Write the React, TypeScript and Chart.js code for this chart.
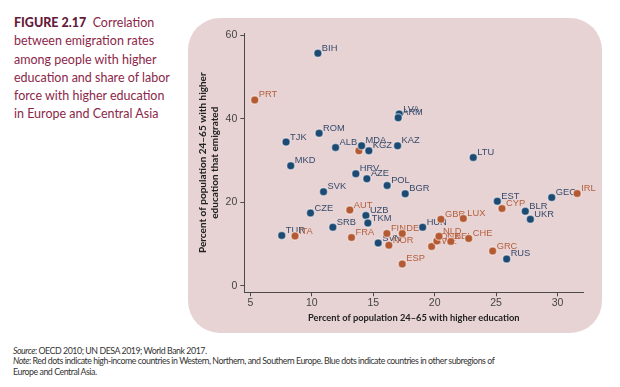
import React, { useEffect, useRef } from "react";
import { Chart, registerables } from "chart.js";
Chart.register(...registerables);

const blueLabels = ["BIH", "LVA", "ARM", "ROM", "TJK", "ALB", "MDA", "KGZ", "KAZ", "LTU", "MKD", "HRV", "AZE", "POL", "BGR", "SVK", "CZE", "UZB", "TKM", "SRB", "TUR", "SVN", "HUN", "EST", "BLR", "UKR", "GEO", "RUS"];
const blueX = [10.49, 17.11, 17.03, 10.59, 7.9, 11.93, 14.05, 14.64, 16.98, 23.14, 8.28, 13.58, 14.48, 16.13, 17.6, 10.95, 9.89, 14.4, 14.56, 11.71, 7.55, 15.4, 19.02, 25.1, 27.38, 27.79, 29.53, 25.86];
const blueY = [55.7, 41.1, 40.2, 36.5, 34.4, 33.1, 33.5, 32.3, 33.5, 30.7, 28.7, 26.8, 25.6, 24.0, 22.0, 22.5, 17.4, 16.8, 15.0, 14.0, 12.0, 10.2, 14.0, 20.2, 17.8, 15.9, 21.1, 6.4];

const redLabels = ["PRT", "", "AUT", "FRA", "ITA", "FIN", "NOR", "DEU", "ESP", "GBR", "LUX", "SWE", "DNK", "NLD", "BEL", "CHE", "GRC", "CYP", "IRL"];
const redX = [5.35, 13.83, 13.09, 13.23, 8.63, 16.11, 16.27, 17.36, 17.36, 20.51, 22.33, 19.75, 20.18, 20.35, 21.32, 22.77, 24.72, 25.48, 31.6];
const redY = [44.5, 32.3, 18.1, 11.5, 11.9, 12.5, 9.7, 12.5, 5.2, 15.9, 16.1, 9.4, 10.7, 11.8, 10.6, 11.3, 8.3, 18.5, 22.1];

const xTicks = [5, 10, 15, 20, 25, 30];
const yTicks = [0, 20, 40, 60];

const xTitle = "Percent of population 24–65 with higher education";
const yTitle = ["Percent of population 24–65 with higher", "education that emigrated"];

const BLUE = "#1c4a73";
const RED = "#b45a33";
const BLUE_TXT = "#34496a";
const RED_TXT = "#b35e3c";
const AXIS = "#4a4a4a";
const NARROW = '"Liberation Sans Narrow", "Liberation Sans", Arial, sans-serif';

const labelPlugin = {
  id: "pointLabels",
  beforeDatasetsDraw(chart: any) {
    const ctx = chart.ctx;
    chart.data.datasets.forEach((ds: any, i: number) => {
      const meta = chart.getDatasetMeta(i);
      ctx.save();
      ctx.font = `9.3px ${NARROW}`;
      ctx.fillStyle = ds.labelColor;
      ctx.textBaseline = "middle";
      ctx.textAlign = "left";
      meta.data.forEach((el: any, j: number) => {
        const lbl = ds.pointLabels[j];
        if (!lbl) return;
        ctx.fillText(lbl, el.x + 4, el.y - 5);
      });
      ctx.restore();
    });
  },
};

export default function App() {
  const ref = useRef<HTMLCanvasElement>(null);
  useEffect(() => {
    if (!ref.current) return;
    const toPts = (xs: number[], ys: number[]) => xs.map((x, i) => ({ x, y: ys[i] }));
    const chart = new Chart(ref.current, {
      type: "scatter",
      data: {
        datasets: [
          {
            label: "Other",
            data: toPts(blueX, blueY),
            backgroundColor: BLUE,
            borderColor: "rgba(255,255,255,0.45)",
            borderWidth: 1.5,
            pointRadius: 4,
            pointLabels: blueLabels,
            labelColor: BLUE_TXT,
          } as any,
          {
            label: "High-income",
            data: toPts(redX, redY),
            backgroundColor: RED,
            borderColor: "rgba(255,255,255,0.45)",
            borderWidth: 1.5,
            pointRadius: 4,
            pointLabels: redLabels,
            labelColor: RED_TXT,
          } as any,
        ],
      },
      options: {
        responsive: false,
        animation: false,
        events: [],
        layout: { padding: { left: 0, right: 18.7, top: 15.1, bottom: 0 } },
        plugins: { legend: { display: false }, tooltip: { enabled: false } },
        scales: {
          x: {
            type: "linear",
            min: 4.5,
            max: 32.1,
            afterBuildTicks: (s: any) => {
              s.ticks = xTicks.map((v) => ({ value: v }));
            },
            afterFit: (s: any) => {
              s.height = 40.7;
            },
            grid: { display: true, drawOnChartArea: false, drawTicks: true, tickLength: 4, color: AXIS },
            border: { display: true, color: AXIS, width: 1 },
            ticks: { color: "#444", font: { size: 10.5, family: NARROW }, padding: 1 },
            title: {
              display: true,
              text: xTitle,
              color: "#222",
              font: { size: 9.3, weight: "bold", family: "Lato, sans-serif" },
              padding: { top: 0, bottom: 9.3 },
            },
          },
          y: {
            type: "linear",
            min: -1.6,
            max: 60.5,
            afterBuildTicks: (s: any) => {
              s.ticks = yTicks.map((v) => ({ value: v }));
            },
            afterFit: (s: any) => {
              s.width = 56.3;
            },
            grid: { display: true, drawOnChartArea: false, drawTicks: true, tickLength: 4, color: AXIS },
            border: { display: true, color: AXIS, width: 1 },
            ticks: { color: "#444", font: { size: 10.5, family: NARROW }, padding: 3 },
            title: {
              display: true,
              text: yTitle,
              color: "#222",
              font: { size: 10, weight: "bold", family: "Lato, sans-serif", lineHeight: 1.2 },
              padding: { top: 9, bottom: 0 },
            },
          },
        },
      } as any,
      plugins: [labelPlugin],
    });
    return () => chart.destroy();
  }, []);

  return (
    <div style={{ position: "absolute", left: 0, top: 0, width: 620, height: 387, background: "#fff", overflow: "hidden" }}>
      <div
        style={{
          position: "absolute",
          left: 14,
          top: 14,
          width: 175,
          fontFamily: "Lato, sans-serif",
          fontSize: 12.5,
          lineHeight: "18.3px",
          color: "#8c2749",
          whiteSpace: "nowrap",
        }}
      >
        <span style={{ fontWeight: 900, color: "#641a39" }}>FIGURE 2.17</span>
        <span>&nbsp; Correlation</span>
        <br />
        between emigration rates
        <br />
        among people with higher
        <br />
        education and share of labor
        <br />
        force with higher education
        <br />
        in Europe and Central Asia
      </div>
      <div
        style={{
          position: "absolute",
          left: 188,
          top: 18,
          width: 414,
          height: 315,
          borderRadius: 32,
          background: "#e8d3d4",
        }}
      />
      <canvas ref={ref} width={414} height={315} style={{ position: "absolute", left: 188, top: 18, width: 414, height: 315 }} />
      <div
        style={{
          position: "absolute",
          left: 13,
          top: 346,
          fontFamily: "Lato, sans-serif",
          fontSize: 8.8,
          letterSpacing: "-0.45px",
          lineHeight: "10.3px",
          color: "#333",
          whiteSpace: "nowrap",
        }}
      >
        <i>Source</i>: OECD 2010; UN DESA 2019; World Bank 2017.
        <br />
        <i>Note</i>: Red dots indicate high-income countries in Western, Northern, and Southern Europe. Blue dots indicate countries in other subregions of
        <br />
        Europe and Central Asia.
      </div>
    </div>
  );
}
